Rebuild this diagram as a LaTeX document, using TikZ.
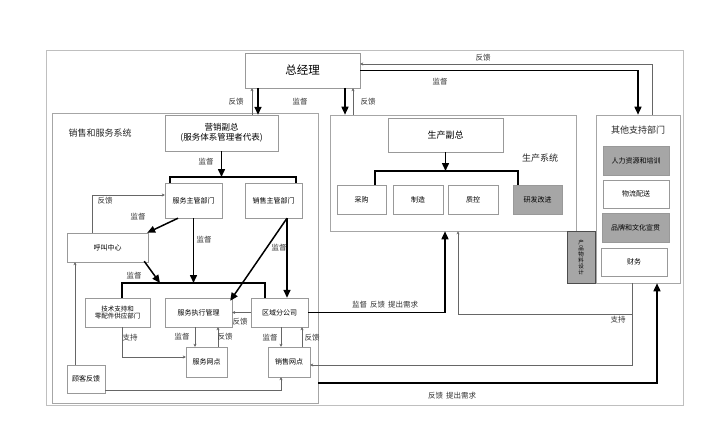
\documentclass[tikz,border=0pt]{standalone}
\usepackage{fontspec}
\setmainfont{Noto Sans CJK SC}
\usetikzlibrary{arrows.meta}
\begin{document}
\begin{tikzpicture}[x=1pt,y=-1pt,
 box/.style={draw=gray!80, fill=white, inner sep=1pt, font=\fontsize{7}{8}\selectfont, align=center},
 gbox/.style={box, fill=gray!70},
 frame/.style={draw=gray!70, line width=0.6pt},
 thk/.style={line width=1.5pt, -{Triangle[length=8pt,width=7pt]}},
 thkl/.style={line width=1.5pt},
 thn/.style={draw=gray!80!black, line width=0.5pt, -{Stealth[length=3pt,width=3pt]}},
 lbl/.style={font=\fontsize{7.5}{8}\selectfont, text=black!80},
 ttl/.style={font=\fontsize{9}{10}\selectfont, text=black!85}]
\useasboundingbox (0,0) rectangle (713,436);
\draw[frame, draw=gray!50] (46,50) rectangle (683,405);
% frames
\node[frame, minimum width=266, minimum height=290, inner sep=0pt] (xs) at (185,258) {};
\node[frame, minimum width=246, minimum height=116, inner sep=0pt] (sc) at (453,173) {};
\node[frame, minimum width=84, minimum height=168, inner sep=0pt] (qt) at (638,199) {};
% nodes
\node[box, minimum width=115, minimum height=35, font=\fontsize{11.5}{12}\selectfont] (zjl) at (302.5,70.5) {总经理};
\node[box, minimum width=113, minimum height=36, font=\fontsize{8.5}{10}\selectfont] (ywfz) at (221.5,133) {营销副总\\(服务体系管理者代表)};
\node[box, minimum width=57, minimum height=35] (fwzg) at (193.5,200.5) {服务主管部门};
\node[box, minimum width=57, minimum height=35] (xszg) at (273.5,200.5) {销售主管部门};
\node[box, minimum width=81, minimum height=29] (hjzx) at (107.5,247.5) {呼叫中心};
\node[box, minimum width=65, minimum height=29, font=\fontsize{6.5}{7.5}\selectfont] (jszc) at (117.5,312.5) {技术支持和\\零配件供应部门};
\node[box, minimum width=67, minimum height=29] (fwzx) at (198.5,312.5) {服务执行管理};
\node[box, minimum width=57, minimum height=29] (qyfgs) at (279.5,312.5) {区域分公司};
\node[box, minimum width=41, minimum height=30] (fwwd) at (206.5,362) {服务网点};
\node[box, minimum width=42, minimum height=30] (xswd) at (289,362) {销售网点};
\node[box, minimum width=38, minimum height=28] (gkfk) at (86,379) {顾客反馈};
\node[box, minimum width=115, minimum height=34, font=\fontsize{9}{10}\selectfont] (scfz) at (445.5,135) {生产副总};
\node[box, minimum width=49, minimum height=29] (cg) at (361.5,199.5) {采购};
\node[box, minimum width=50, minimum height=29] (zz) at (418,199.5) {制造};
\node[box, minimum width=50, minimum height=29] (zk) at (473,199.5) {质控};
\node[gbox, minimum width=49, minimum height=29] (yf) at (537.5,199.5) {研发改进};
\node[gbox, minimum width=66, minimum height=29] (rl) at (636,160.5) {人力资源和培训};
\node[box, minimum width=66, minimum height=28] (wl) at (636,194) {物流配送};
\node[gbox, minimum width=67, minimum height=29] (pp) at (635.5,227.5) {品牌和文化宣贯};
\node[box, minimum width=66, minimum height=28] (cw) at (634,262) {财务};
\node[gbox, draw=black!70, minimum width=28, minimum height=52, font=\fontsize{5.5}{6}\selectfont] (cp) at (581,257) {产\\品\\物\\料\\设\\计};
% titles
\node[ttl] (t1) at (100,133) {销售和服务系统};
\node[ttl] (t2) at (540,158) {生产系统};
\node[ttl] (t3) at (638,130) {其他支持部门};
% GM connectors
\coordinate (a1) at (258,88); \draw[thk] (a1) -- (a1 |- ywfz.north);
\coordinate (a2) at (252,115); \draw[thn] (a2) -- (a2 |- zjl.south);
\coordinate (a3) at (345,88); \draw[thk] (a3) -- (a3 |- sc.north);
\coordinate (a4) at (353,115); \draw[thn] (a4) -- (a4 |- zjl.south);
\draw[thk] (zjl.east) -| (qt.north);
\coordinate (a5) at (652,115); \draw[thn] (a5) |- ([yshift=6.5]zjl.east);
% sales internal
\coordinate (b1) at (221.5,177); \draw[thk] (ywfz.south) -- (b1);
\coordinate (b2) at (170,183); \coordinate (b3) at (296,177); \coordinate (b4) at (296,183);
\draw[thkl] (b2) |- (b3) -- (b4);
\draw[thn] ([xshift=-15.5]hjzx.north) |- ([yshift=5.5]fwzg.west);
\draw[thk] ([xshift=-15.5]fwzg.south) -- ([xshift=-1]hjzx.north east);
\coordinate (c3) at (265,283); \coordinate (c5) at (265,298);
\draw[thk] (fwzg.south) -- (fwzg.south |- c3);
\draw[thkl] ([xshift=4.5]jszc.north) |- (c3) -- (c5);
\coordinate (c4) at (160,283);
\draw[thk] ([xshift=-4,yshift=1]hjzx.south east) -- (c4);
\draw[thk] ([xshift=13.5]xszg.south) -- ([xshift=-2,yshift=-3]fwzx.north east);
\draw[thk] ([xshift=13.5]xszg.south) -- ([xshift=7.5]qyfgs.north);
\draw[thn] (qyfgs.west) -- (fwzx.east);
\draw[thn] ([xshift=-3.5]fwzx.south) -- ([xshift=-11.5]fwwd.north);
\draw[thn] ([xshift=11.5]fwwd.north) -- ([xshift=19.5]fwzx.south);
\draw[thn] ([xshift=1.5]qyfgs.south) -- ([xshift=-8]xswd.north);
\draw[thn] ([xshift=13]xswd.north) -- ([xshift=22.5]qyfgs.south);
\draw[thn] ([xshift=4.5]jszc.south) |- ([yshift=5]fwwd.west);
\draw[thn] ([xshift=-11]gkfk.north) -- ([xshift=-32.5]hjzx.south);
\draw[thn] ([yshift=-11]gkfk.east) -| ([xshift=-8]xswd.south);
% production internal
\coordinate (p1) at (445.5,171); \draw[thk] (scfz.south) -- (p1);
\coordinate (p2) at (518,171);
\draw[thkl] ([xshift=13.5]cg.north) |- (p2) -- ([xshift=-19.5]yf.north);
% cross links
\draw[thk] (qyfgs.east) -| ([xshift=-8]sc.south);
\coordinate (s1) at (632,314);
\draw[thn] ([xshift=-6]qt.south) -- (s1) -| ([xshift=5]sc.south);
\draw[thn] ([xshift=-6]qt.south) |- ([yshift=-3]xswd.east);
\coordinate (d1) at (318,383);
\draw[thk] (d1) -| ([xshift=19]qt.south);
% labels
\node[lbl] (l1) at (236,102) {反馈};
\node[lbl] (l2) at (300,102) {监督};
\node[lbl] (l3) at (368,102) {反馈};
\node[lbl] (l4) at (440,82) {监督};
\node[lbl] (l5) at (483,58) {反馈};
\node[lbl] (l6) at (206,162) {监督};
\node[lbl] (l7) at (105,201) {反馈};
\node[lbl] (l8) at (138,217) {监督};
\node[lbl] (l9) at (204,240) {监督};
\node[lbl] (l10) at (279,248) {监督};
\node[lbl] (l11) at (134,276) {监督};
\node[lbl] (l12) at (240,322) {反馈};
\node[lbl] (l13) at (182,337) {监督};
\node[lbl] (l14) at (225,337) {反馈};
\node[lbl] (l15) at (270,338) {监督};
\node[lbl] (l16) at (312,338) {反馈};
\node[lbl] (l17) at (130,338) {支持};
\node[lbl] (l18) at (385,305) {监督\hspace{3pt}反馈\hspace{3pt}提出需求};
\node[lbl] (l19) at (618,320) {支持};
\node[lbl] (l20) at (452,396) {反馈\hspace{3pt}提出需求};
\end{tikzpicture}
\end{document}
